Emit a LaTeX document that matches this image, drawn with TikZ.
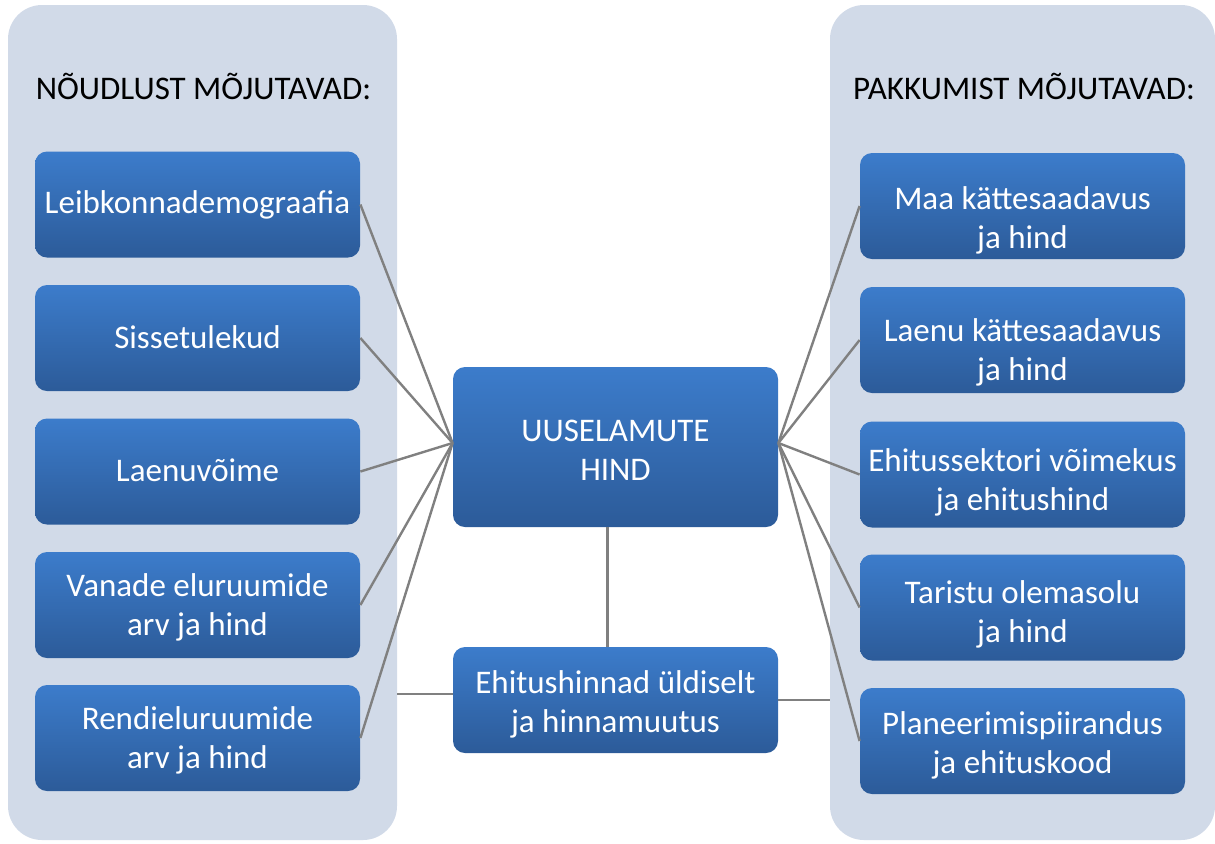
\documentclass[tikz,border=0pt]{standalone}
\usepackage{fontspec}
\setmainfont{Carlito}
\definecolor{panelfill}{RGB}{209,218,232}
\definecolor{boxtop}{RGB}{60,124,203}
\definecolor{boxbot}{RGB}{44,91,153}
\definecolor{linkgray}{RGB}{128,128,128}
\tikzset{
  panel/.style={rectangle, rounded corners=17pt, fill=panelfill, inner sep=0pt},
  heading/.style={font=\fontsize{16.5}{20}\selectfont, text=black},
  factor/.style={rectangle, rounded corners=6pt, top color=boxtop, bottom color=boxbot,
    draw=none, text=white, align=center, minimum width=162.5pt, minimum height=53pt,
    inner sep=0pt, font=\fontsize{16.5}{19.5}\selectfont},
  baseat/.style={text height=#1, text depth=0pt},
  link/.style={draw=linkgray, line width=1.2pt}
}

\begin{document}
\begin{tikzpicture}[x=0.5pt, y=-0.5pt]
  \useasboundingbox (0,0) rectangle (1215,843);
  % background panels
  \node[panel, minimum width=194.5pt, minimum height=417.5pt] (demand) at (202.5,422.5) {};
  \node[panel, minimum width=192.5pt, minimum height=417.5pt] (supply) at (1022.5,422.5) {};
  \node[heading] (dhead) at (203.5,86) {NÕUDLUST MÕJUTAVAD:};
  \node[heading] (shead) at (1024,86) {PAKKUMIST MÕJUTAVAD:};

  % demand side
  \node[factor, baseat=8.5pt] (d1) at (197.5,204.5) {Leibkonnademograafia};
  \node[factor, baseat=10.5pt] (d2) at (197.5,338) {Sissetulekud};
  \node[factor, baseat=10pt] (d3) at (197.5,471.5) {Laenuvõime};
  \node[factor, baseat=30.5pt] (d4) at (197.5,605) {Vanade eluruumide\\arv ja hind};
  \node[factor, baseat=30.5pt] (d5) at (197.5,738) {Rendieluruumide\\arv ja hind};

  % supply side
  \node[factor, baseat=42.5pt] (s1) at (1022.5,206) {Maa kättesaadavus\\ja hind};
  \node[factor, baseat=40pt] (s2) at (1022.5,340) {Laenu kättesaadavus\\ja hind};
  \node[factor, baseat=35.5pt] (s3) at (1022.5,474.5) {Ehitussektori võimekus\\ja ehitushind};
  \node[factor, baseat=34.5pt] (s4) at (1022.5,607.5) {Taristu olemasolu\\ja hind};
  \node[factor, baseat=32pt] (s5) at (1022.5,741) {Planeerimispiirandus\\ja ehituskood};

  % middle
  \node[factor, baseat=33pt, minimum height=80pt] (price) at (615.5,447) {UUSELAMUTE\\HIND};
  \node[factor, baseat=32pt] (general) at (615.5,700) {Ehitushinnad üldiselt\\ja hinnamuutus};

  \foreach \i in {1,...,5} {
    \draw[link] (d\i.east) -- ([yshift=2pt]price.west);
    \draw[link] (s\i.west) -- ([yshift=2pt]price.east);
  }
  \draw[link] ([xshift=-4pt]price.south) -- ([xshift=-4pt]general.north);
  \draw[link] ([yshift=3pt]general.west) -- ([yshift=3pt]general.west -| demand.east);
  \draw[link] (general.east) -- (general.east -| supply.west);
\end{tikzpicture}
\end{document}
